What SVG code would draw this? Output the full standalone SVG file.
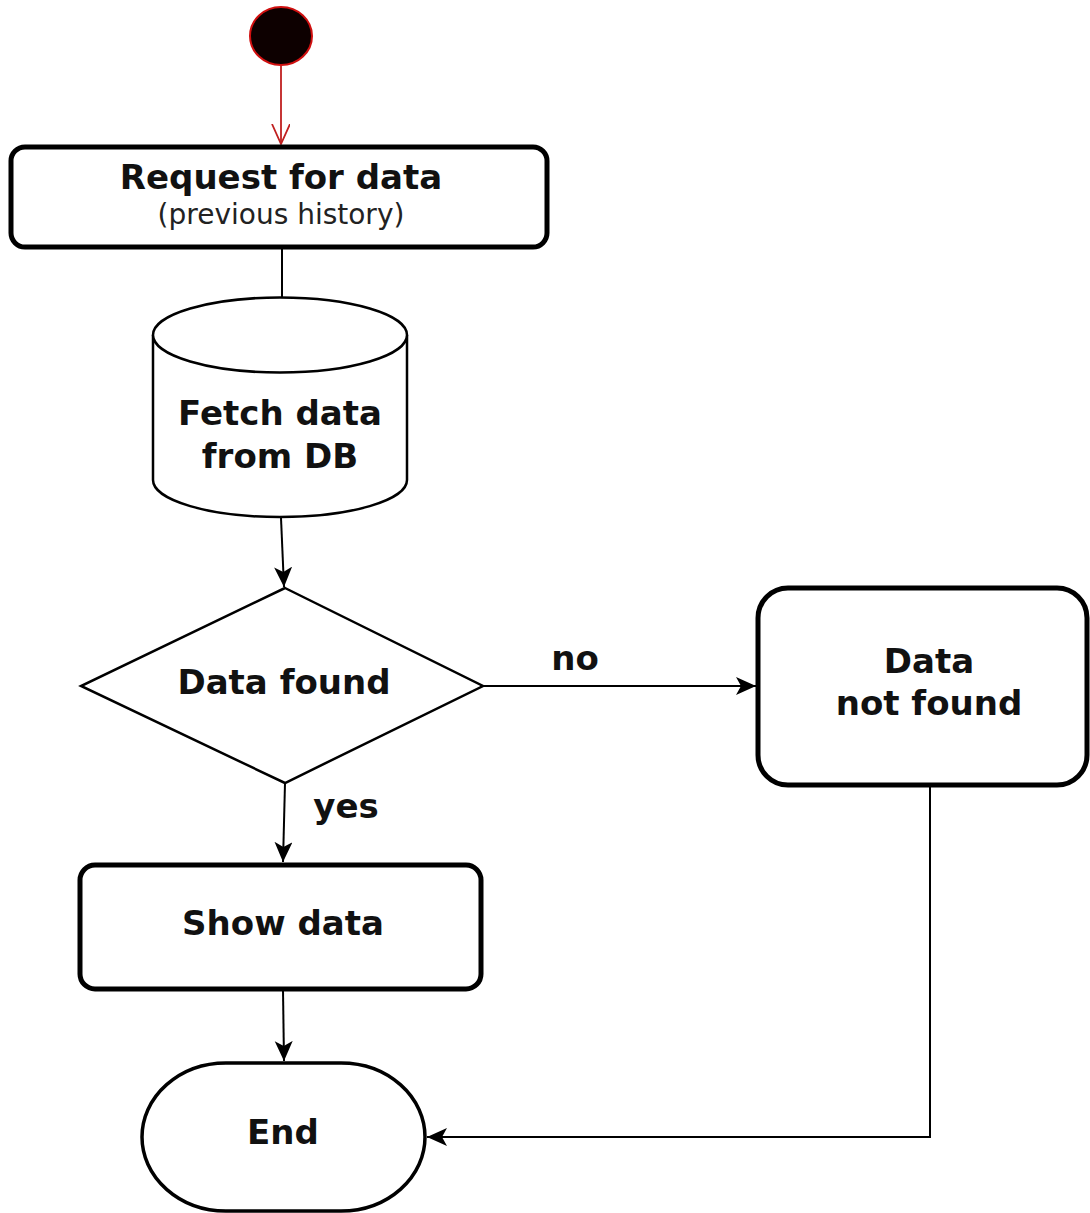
<svg xmlns="http://www.w3.org/2000/svg" width="1090" height="1213" viewBox="0 0 1090 1213">
  <style>
    .box { fill: #ffffff; stroke: #000000; stroke-width: 5; }
    .thin { fill: #ffffff; stroke: #000000; stroke-width: 2.5; }
    .lbl { font-family: "DejaVu Sans", Verdana, sans-serif; font-weight: bold; font-size: 34px; fill: #111111; text-anchor: middle; }
    .sub { font-family: "DejaVu Sans", Verdana, sans-serif; font-size: 28px; fill: #222222; text-anchor: middle; }
    .edge { fill: none; stroke: #000000; stroke-width: 2; }
    .red { fill: none; stroke: #c02020; stroke-width: 1.8; }
  </style>
  <defs>
    <marker id="arrow" markerUnits="userSpaceOnUse" markerWidth="22" markerHeight="20" refX="20" refY="9" orient="auto">
      <path d="M0,0 L20,9 L0,18 L5,9 z" fill="#000000"/>
    </marker>
    <marker id="open" markerUnits="userSpaceOnUse" markerWidth="22" markerHeight="22" refX="20" refY="9" orient="auto">
      <path d="M0,0 L20,9 L0,18" fill="none" stroke="#c02020" stroke-width="1.8"/>
    </marker>
  </defs>
  <rect width="1090" height="1213" fill="#ffffff"/>

  <g id="connectors">
    <line class="red" x1="281" y1="66" x2="281" y2="144" marker-end="url(#open)"/>
    <line class="edge" x1="282" y1="248" x2="282" y2="298"/>
    <line class="edge" x1="281" y1="518" x2="284" y2="587" marker-end="url(#arrow)"/>
    <line class="edge" x1="484" y1="686" x2="756" y2="686" marker-end="url(#arrow)"/>
    <line class="edge" x1="285" y1="783" x2="283" y2="862" marker-end="url(#arrow)"/>
    <line class="edge" x1="283" y1="990" x2="284" y2="1061" marker-end="url(#arrow)"/>
    <polyline class="edge" points="930,787 930,1137 427,1137" marker-end="url(#arrow)"/>
    <text class="lbl" x="575" y="670">no</text>
    <text class="lbl" x="346" y="818">yes</text>
  </g>

  <g id="start">
    <ellipse cx="281" cy="36" rx="31" ry="29" fill="#0d0000" stroke="#d01010" stroke-width="2"/>
  </g>

  <g id="request">
    <rect class="box" x="11" y="147" width="536" height="100" rx="14" ry="14"/>
    <text class="lbl" x="281" y="189">Request for data</text>
    <text class="sub" x="281" y="224">(previous history)</text>
  </g>

  <g id="fetch">
    <path class="thin" d="M153,335 L153,480 A127,37 0 0 0 407,480 L407,335 A127,37.5 0 0 0 153,335 Z"/>
    <path class="thin" d="M153,335 A127,37.5 0 0 0 407,335" fill="none"/>
    <text class="lbl" x="280" y="425">Fetch data</text>
    <text class="lbl" x="280" y="468">from DB</text>
  </g>

  <g id="decision">
    <polygon class="thin" points="285,588 483,686 285,783 81,686" stroke-width="2"/>
    <text class="lbl" x="284" y="694">Data found</text>
  </g>

  <g id="notfound">
    <rect class="box" x="758" y="588" width="329" height="197" rx="30" ry="30"/>
    <text class="lbl" x="929" y="673">Data</text>
    <text class="lbl" x="929" y="715">not found</text>
  </g>

  <g id="show">
    <rect class="box" x="80" y="865" width="401" height="124" rx="15" ry="15"/>
    <text class="lbl" x="283" y="935">Show data</text>
  </g>

  <g id="end">
    <rect x="142" y="1063" width="283" height="148" rx="84" ry="74" fill="#ffffff" stroke="#000000" stroke-width="3.5"/>
    <text class="lbl" x="283" y="1144">End</text>
  </g>
</svg>
